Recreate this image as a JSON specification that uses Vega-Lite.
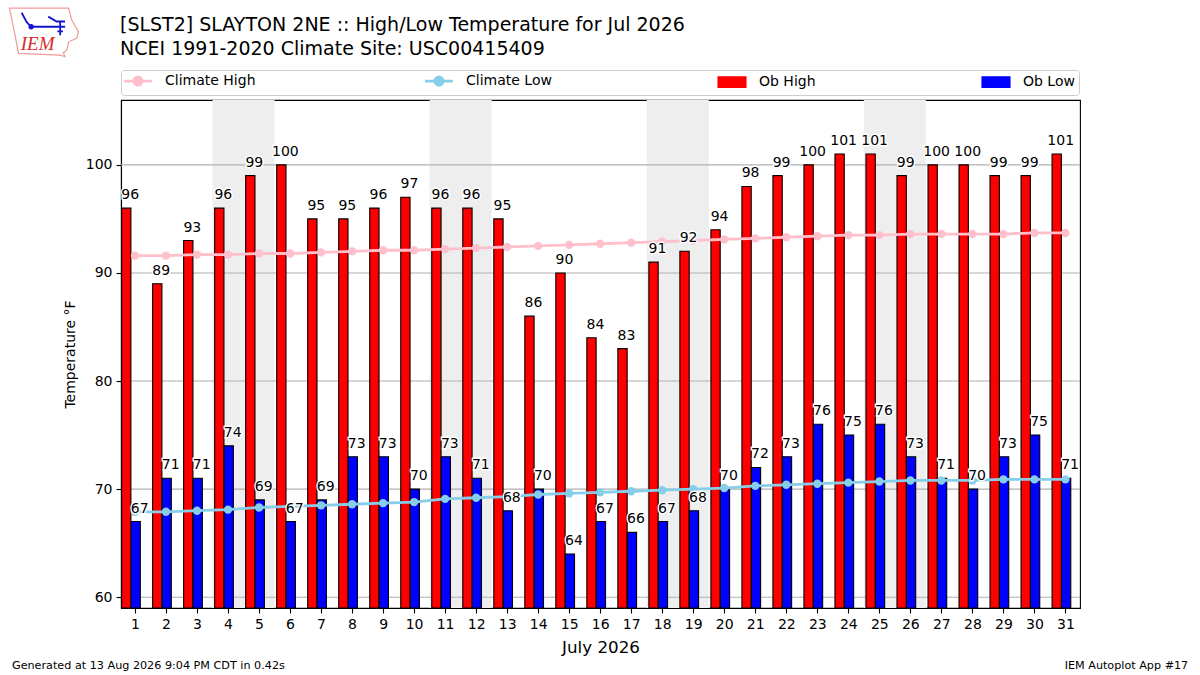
{
  "$schema": "https://vega.github.io/schema/vega-lite/v6.json",
  "width": 959,
  "height": 508,
  "autosize": {"type": "none"},
  "padding": {"left": 121, "top": 100, "right": 120, "bottom": 67},
  "background": "white",
  "config": {
    "font": "DejaVu Sans",
    "view": {"stroke": "black", "strokeWidth": 1.1},
    "axis": {
      "grid": false,
      "zindex": 1,
      "domainColor": "black",
      "domainWidth": 1.1,
      "tickColor": "black",
      "tickWidth": 1.1,
      "tickSize": 5,
      "labelColor": "black",
      "labelFontSize": 14,
      "labelPadding": 4,
      "titleColor": "black",
      "titleFontWeight": "normal"
    }
  },
  "title": {
    "text": ["[SLST2] SLAYTON 2NE :: High/Low Temperature for Jul 2026", "NCEI 1991-2020 Climate Site: USC00415409"],
    "anchor": "start",
    "frame": "group",
    "align": "left",
    "dx": -1,
    "dy": 53,
    "fontSize": 19,
    "fontWeight": "normal",
    "color": "black",
    "lineHeight": 23.5,
    "offset": 0
  },
  "datasets": {
    "days": [
      {"day": 1, "high": 96, "low": 67, "clim_high": 91.6, "clim_low": 67.9},
      {"day": 2, "high": 89, "low": 71, "clim_high": 91.6, "clim_low": 67.9},
      {"day": 3, "high": 93, "low": 71, "clim_high": 91.7, "clim_low": 68.0},
      {"day": 4, "high": 96, "low": 74, "clim_high": 91.7, "clim_low": 68.1},
      {"day": 5, "high": 99, "low": 69, "clim_high": 91.8, "clim_low": 68.3},
      {"day": 6, "high": 100, "low": 67, "clim_high": 91.8, "clim_low": 68.4},
      {"day": 7, "high": 95, "low": 69, "clim_high": 91.9, "clim_low": 68.5},
      {"day": 8, "high": 95, "low": 73, "clim_high": 92.0, "clim_low": 68.6},
      {"day": 9, "high": 96, "low": 73, "clim_high": 92.1, "clim_low": 68.7},
      {"day": 10, "high": 97, "low": 70, "clim_high": 92.1, "clim_low": 68.8},
      {"day": 11, "high": 96, "low": 73, "clim_high": 92.2, "clim_low": 69.1},
      {"day": 12, "high": 96, "low": 71, "clim_high": 92.3, "clim_low": 69.2},
      {"day": 13, "high": 95, "low": 68, "clim_high": 92.4, "clim_low": 69.3},
      {"day": 14, "high": 86, "low": 70, "clim_high": 92.5, "clim_low": 69.5},
      {"day": 15, "high": 90, "low": 64, "clim_high": 92.6, "clim_low": 69.6},
      {"day": 16, "high": 84, "low": 67, "clim_high": 92.7, "clim_low": 69.7},
      {"day": 17, "high": 83, "low": 66, "clim_high": 92.8, "clim_low": 69.8},
      {"day": 18, "high": 91, "low": 67, "clim_high": 92.9, "clim_low": 69.9},
      {"day": 19, "high": 92, "low": 68, "clim_high": 93.0, "clim_low": 70.0},
      {"day": 20, "high": 94, "low": 70, "clim_high": 93.1, "clim_low": 70.1},
      {"day": 21, "high": 98, "low": 72, "clim_high": 93.2, "clim_low": 70.3},
      {"day": 22, "high": 99, "low": 73, "clim_high": 93.3, "clim_low": 70.4},
      {"day": 23, "high": 100, "low": 76, "clim_high": 93.4, "clim_low": 70.5},
      {"day": 24, "high": 101, "low": 75, "clim_high": 93.5, "clim_low": 70.6},
      {"day": 25, "high": 101, "low": 76, "clim_high": 93.5, "clim_low": 70.7},
      {"day": 26, "high": 99, "low": 73, "clim_high": 93.6, "clim_low": 70.8},
      {"day": 27, "high": 100, "low": 71, "clim_high": 93.6, "clim_low": 70.8},
      {"day": 28, "high": 100, "low": 70, "clim_high": 93.6, "clim_low": 70.8},
      {"day": 29, "high": 99, "low": 73, "clim_high": 93.6, "clim_low": 70.9},
      {"day": 30, "high": 99, "low": 75, "clim_high": 93.7, "clim_low": 70.9},
      {"day": 31, "high": 101, "low": 71, "clim_high": 93.7, "clim_low": 70.9}
    ],
    "weekends": [
      {"start": 3.5, "end": 5.5},
      {"start": 10.5, "end": 12.5},
      {"start": 17.5, "end": 19.5},
      {"start": 24.5, "end": 26.5}
    ],
    "grid": [{"temp": 60}, {"temp": 70}, {"temp": 80}, {"temp": 90}, {"temp": 100}],
    "note_left": [{"day": -2.965, "temp": 53.67, "note": "Generated at 13 Aug 2026 9:04 PM CDT in 0.42s"}],
    "note_right": [{"day": 34.96, "temp": 53.67, "note": "IEM Autoplot App #17"}],
    "logo_mark": [{"day": -1.93, "temp": 112.29}],
    "logo_text": [{"day": -2.14, "temp": 111.18, "note": "IEM"}]
  },
  "encoding": {
    "x": {
      "field": "day",
      "type": "quantitative",
      "scale": {"domain": [0.55, 31.47], "nice": false, "zero": false, "padding": 0},
      "axis": {
        "values": [1, 2, 3, 4, 5, 6, 7, 8, 9, 10, 11, 12, 13, 14, 15, 16, 17, 18, 19, 20, 21, 22, 23, 24, 25, 26, 27, 28, 29, 30, 31],
        "format": "d",
        "labelOverlap": false,
        "labelFlush": false,
        "title": "July 2026",
        "titleFontSize": 16.7,
        "titlePadding": 8
      }
    },
    "y": {
      "type": "quantitative",
      "scale": {"domain": [59, 106], "nice": false, "zero": false},
      "axis": {
        "values": [60, 70, 80, 90, 100],
        "title": "Temperature °F",
        "titleFontSize": 14,
        "titlePadding": 8
      }
    }
  },
  "layer": [
    {
      "data": {"name": "weekends"},
      "mark": {"type": "rect", "color": "#eeeeee"},
      "encoding": {
        "x": {"field": "start", "type": "quantitative"},
        "x2": {"field": "end"},
        "y": null
      }
    },
    {
      "data": {"name": "grid"},
      "mark": {"type": "rule", "color": "#b0b0b0", "strokeWidth": 1.1},
      "encoding": {
        "x": null,
        "y": {"field": "temp", "type": "quantitative"}
      }
    },
    {
      "data": {"name": "days"},
      "layer": [
        {
          "mark": {"type": "bar", "width": 9.3, "xOffset": -8.7, "stroke": "black", "strokeWidth": 1.1, "clip": true},
          "encoding": {
            "y": {"field": "high", "type": "quantitative"},
            "y2": {"datum": 59},
            "color": {
              "datum": "Ob High",
              "scale": {
                "domain": ["Climate High", "Climate Low", "Ob High", "Ob Low"],
                "range": ["#ffc0cb", "#87ceeb", "#ff0000", "#0000ff"]
              },
              "legend": {
                "title": null,
                "orient": "none",
                "legendX": 0,
                "legendY": -30,
                "direction": "horizontal",
                "columns": 4,
                "columnPadding": 163,
                "gridAlign": "each",
                "symbolSize": 196,
                "symbolOffset": 6,
                "labelOffset": 20,
                "labelFontSize": 14,
                "labelColor": "black",
                "labelLimit": 200,
                "fillColor": "white",
                "strokeColor": "#cccccc",
                "cornerRadius": 3,
                "padding": 4,
                "symbolType": {"expr": "indexof(['Ob High','Ob Low'], datum.value) >= 0 ? 'M-2,-0.76H2V0.76H-2Z' : 'M-2,0H2M0.6,0A0.6,0.6 0 1 1 -0.6,0A0.6,0.6 0 1 1 0.6,0'"},
                "symbolStrokeColor": {"expr": "datum.value == 'Climate High' ? '#ffc0cb' : datum.value == 'Climate Low' ? '#87ceeb' : 'black'"},
                "symbolStrokeWidth": {"expr": "indexof(['Ob High','Ob Low'], datum.value) >= 0 ? 1.1 : 2.8"},
                "symbolOpacity": 1,
                "encode": {
                  "symbols": {
                    "update": {
                      "stroke": {"signal": "datum.value == 'Climate High' ? '#ffc0cb' : datum.value == 'Climate Low' ? '#87ceeb' : 'black'"}
                    }
                  }
                }
              }
            }
          }
        },
        {
          "mark": {"type": "bar", "width": 9.3, "xOffset": 0.7, "stroke": "black", "strokeWidth": 1.1, "clip": true},
          "encoding": {
            "y": {"field": "low", "type": "quantitative"},
            "y2": {"datum": 59},
            "color": {"datum": "Ob Low", "legend": null}
          }
        },
        {
          "mark": {"type": "line", "strokeWidth": 2.8, "point": {"filled": true, "size": 70, "opacity": 1}},
          "encoding": {
            "y": {"field": "clim_high", "type": "quantitative"},
            "color": {"datum": "Climate High", "legend": null}
          }
        },
        {
          "mark": {"type": "line", "strokeWidth": 2.8, "point": {"filled": true, "size": 70, "opacity": 1}},
          "encoding": {
            "y": {"field": "clim_low", "type": "quantitative"},
            "color": {"datum": "Climate Low", "legend": null}
          }
        },
        {
          "mark": {"type": "text", "fontSize": 14, "dx": -4.7, "dy": -9, "baseline": "alphabetic", "align": "center", "color": "white", "stroke": "white", "strokeWidth": 2.8},
          "encoding": {"y": {"field": "high", "type": "quantitative"}, "text": {"field": "high"}}
        },
        {
          "mark": {"type": "text", "fontSize": 14, "dx": 4.7, "dy": -9, "baseline": "alphabetic", "align": "center", "color": "white", "stroke": "white", "strokeWidth": 2.8},
          "encoding": {"y": {"field": "low", "type": "quantitative"}, "text": {"field": "low"}}
        },
        {
          "mark": {"type": "text", "fontSize": 14, "dx": -4.7, "dy": -9, "baseline": "alphabetic", "align": "center", "color": "black"},
          "encoding": {"y": {"field": "high", "type": "quantitative"}, "text": {"field": "high"}}
        },
        {
          "mark": {"type": "text", "fontSize": 14, "dx": 4.7, "dy": -9, "baseline": "alphabetic", "align": "center", "color": "black"},
          "encoding": {"y": {"field": "low", "type": "quantitative"}, "text": {"field": "low"}}
        }
      ]
    },
    {
      "data": {"name": "note_left"},
      "mark": {"type": "text", "fontSize": 11.2, "align": "left", "color": "black"},
      "encoding": {"y": {"field": "temp", "type": "quantitative"}, "text": {"field": "note"}}
    },
    {
      "data": {"name": "note_right"},
      "mark": {"type": "text", "fontSize": 11.2, "align": "right", "color": "black"},
      "encoding": {"y": {"field": "temp", "type": "quantitative"}, "text": {"field": "note"}}
    },
    {
      "data": {"name": "logo_mark"},
      "mark": {
        "type": "point",
        "shape": "M-0.99,-0.68L0.7,-0.68L0.79,-0.34L0.98,-0.01L0.93,0.18L0.7,0.28L0.65,0.51L0.55,0.59L0.6,0.7L0.46,0.66L-0.73,0.61L-0.83,0.09L-0.9,-0.25Z",
        "size": 4900,
        "filled": false,
        "stroke": "#ee9a9a",
        "strokeWidth": 1.2,
        "opacity": 1
      },
      "encoding": {"y": {"field": "temp", "type": "quantitative"}}
    },
    {
      "data": {"name": "logo_mark"},
      "mark": {
        "type": "point",
        "shape": "M-0.64,-0.55L-0.5,-0.29L-0.37,-0.15L0.6,-0.15M0.12,-0.44L0.36,-0.3L0.6,-0.3M0.46,-0.3L0.46,0.09M0.38,-0.02L0.54,-0.02M-0.42,-0.15A0.05,0.05 0 1 1 -0.32,-0.15A0.05,0.05 0 1 1 -0.42,-0.15",
        "size": 4900,
        "filled": false,
        "stroke": "#1414cc",
        "strokeWidth": 1.8,
        "opacity": 1
      },
      "encoding": {"y": {"field": "temp", "type": "quantitative"}}
    },
    {
      "data": {"name": "logo_text"},
      "mark": {"type": "text", "font": "Liberation Serif", "fontStyle": "italic", "fontSize": 19, "align": "center", "color": "#d62b2b"},
      "encoding": {"y": {"field": "temp", "type": "quantitative"}, "text": {"field": "note"}}
    }
  ]
}
